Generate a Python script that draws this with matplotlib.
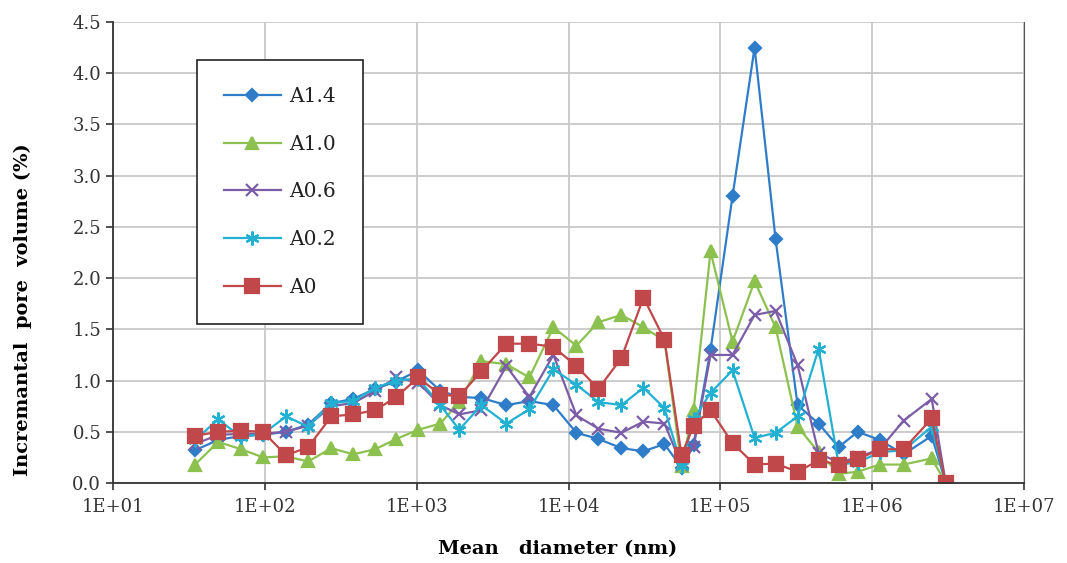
"""
Incremental pore volume vs mean pore diameter for the five A-series samples.
"""

import matplotlib.pyplot as plt
import numpy as np
from matplotlib.ticker import FixedLocator, FuncFormatter, MultipleLocator

# mean diameter (nm), shared by every series
diameter = [34.7, 49.2, 69.8, 97.4, 138, 193, 274, 382, 534, 734,
            1025, 1430, 1910, 2667, 3896, 5525, 7955, 11276, 15745, 22320,
            31170, 42870, 55500, 66600, 86200, 120300, 168100, 231100, 322800, 444000,
            601500, 802600, 1120000, 1613000, 2467000, 3051000]

a14 = [0.32, 0.42, 0.46, 0.47, 0.50, 0.57, 0.78, 0.82, 0.92, 0.99,
       1.10, 0.90, 0.84, 0.83, 0.76, 0.80, 0.76, 0.49, 0.43, 0.34,
       0.31, 0.38, 0.15, 0.37, 1.30, 2.80, 4.25, 2.38, 0.76, 0.58,
       0.35, 0.50, 0.42, 0.28, 0.46, 0.0]
a10 = [0.18, 0.40, 0.33, 0.25, 0.26, 0.21, 0.34, 0.28, 0.33, 0.43,
       0.52, 0.58, 0.79, 1.19, 1.16, 1.03, 1.52, 1.34, 1.57, 1.64,
       1.52, 1.39, 0.17, 0.71, 2.26, 1.38, 1.97, 1.52, 0.55, 0.30,
       0.09, 0.11, 0.18, 0.18, 0.24, 0.0]
a06 = [0.38, 0.47, 0.48, 0.48, 0.50, 0.56, 0.75, 0.78, 0.90, 1.03,
       0.98, 0.76, 0.67, 0.71, 1.14, 0.84, 1.25, 0.66, 0.53, 0.49,
       0.60, 0.58, 0.18, 0.35, 1.25, 1.25, 1.64, 1.68, 1.15, 0.29,
       0.20, 0.25, 0.33, 0.61, 0.82, 0.0]
a02 = [0.42, 0.62, 0.45, 0.48, 0.65, 0.55, 0.78, 0.80, 0.93, 1.00,
       1.02, 0.76, 0.52, 0.76, 0.58, 0.72, 1.11, 0.96, 0.79, 0.76,
       0.93, 0.73, 0.17, 0.62, 0.88, 1.10, 0.44, 0.49, 0.65, 1.31,
       0.18, 0.20, 0.30, 0.32, 0.55, 0.0]
a0 = [0.46, 0.50, 0.51, 0.50, 0.27, 0.35, 0.65, 0.67, 0.71, 0.84,
      1.03, 0.86, 0.85, 1.09, 1.36, 1.36, 1.33, 1.14, 0.92, 1.22,
      1.81, 1.40, 0.27, 0.56, 0.71, 0.39, 0.18, 0.19, 0.11, 0.22,
      0.18, 0.23, 0.33, 0.33, 0.63, 0.0]

series = [
    ("A1.4", a14, "#2f7dc9", "D", 6.5),
    ("A1.0", a10, "#8cc14f", "^", 8.5),
    ("A0.6", a06, "#7b5ea7", "x", 9),
    ("A0.2", a02, "#22b1d3", (6, 2, 0), 10),
    ("A0", a0, "#c0474a", "s", 10),
]

plt.rcParams["font.family"] = "DejaVu Serif"

fig = plt.figure(figsize=(10.67, 5.63), dpi=100)
ax = fig.add_axes([113 / 1067, 1 - 483 / 563, 911 / 1067, 461 / 563])

for name, vals, color, marker, ms in series:
    ax.plot(diameter, vals, color=color, lw=1.6, marker=marker, ms=ms,
            mec=color, mfc=color, mew=1.6, label=name)

ax.set_xscale("log")
ax.set_xlim(10, 1e7)
ax.set_ylim(0, 4.5)
ax.xaxis.set_major_locator(FixedLocator([10.0 ** e for e in range(1, 8)]))
ax.xaxis.set_minor_locator(FixedLocator([]))
ax.xaxis.set_major_formatter(FuncFormatter(lambda v, p: "1E+%02d" % round(np.log10(v))))
ax.yaxis.set_major_locator(MultipleLocator(0.5))
ax.yaxis.set_major_formatter(FuncFormatter(lambda v, p: "%.1f" % v))

ax.grid(True, color="#c8c8c8", lw=1.3)
ax.set_axisbelow(True)
ax.spines["top"].set_visible(False)
ax.spines["right"].set_color("#555555")
for side in ("left", "bottom"):
    ax.spines[side].set_color("#333333")
    ax.spines[side].set_linewidth(1.3)
ax.tick_params(axis="both", direction="out", length=5, width=1.2, color="#333333",
               labelsize=13, labelcolor="#333333")
ax.tick_params(axis="x", pad=6)

ax.set_xlabel("Mean   diameter (nm)", fontsize=14, fontweight="bold")
ax.xaxis.set_label_coords(0.488, -0.124)
ax.set_ylabel("Incremantal  pore  volume (%)", fontsize=14, fontweight="bold")
ax.yaxis.set_label_coords(-0.089, 0.375)

leg = ax.legend(loc="upper left", bbox_to_anchor=(197 / 1067, 1 - 60 / 563),
                bbox_transform=fig.transFigure, borderaxespad=0, fontsize=14.5,
                labelspacing=1.42, handlelength=2.8, handletextpad=0.4,
                borderpad=1.35, fancybox=False, framealpha=1, edgecolor="#222222")
leg.get_frame().set_linewidth(1.2)
for t in leg.get_texts():
    t.set_color("#222222")

fig.savefig("out.png", dpi=100)
